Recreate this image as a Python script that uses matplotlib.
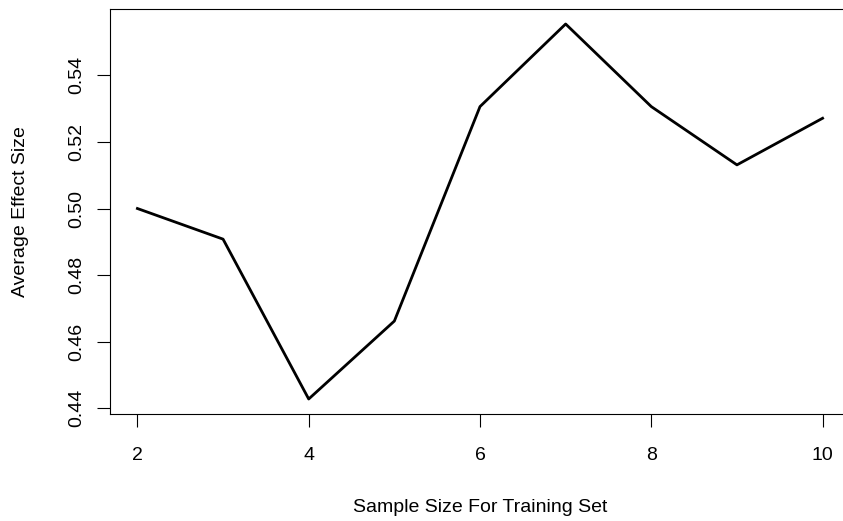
import matplotlib.pyplot as plt

sample_size = [2, 3, 4, 5, 6, 7, 8, 9, 10]
effect_size = [0.500, 0.4908, 0.4428, 0.4662, 0.5306, 0.5554, 0.5306, 0.5131, 0.5271]
y_ticks = [0.44, 0.46, 0.48, 0.50, 0.52, 0.54]
x_ticks = [2, 4, 6, 8, 10]

plt.rcParams['font.family'] = ['Liberation Sans', 'DejaVu Sans']

W, H = 843, 521
fig = plt.figure(figsize=(W / 100, H / 100), dpi=100)
ax = fig.add_axes([110 / W, (H - 414) / H, 740 / W, 405 / H])

ax.plot(sample_size, effect_size, color='black', linewidth=2.0)

# R-style 4% padding on both axes
xr = max(sample_size) - min(sample_size)
yr = max(effect_size) - min(effect_size)
ax.set_xlim(min(sample_size) - 0.04 * xr, max(sample_size) + 0.04 * xr)
ax.set_ylim(min(effect_size) - 0.04 * yr, max(effect_size) + 0.04 * yr)

ax.set_xticks(x_ticks)
ax.set_xticklabels([str(t) for t in x_ticks])
ax.set_yticks(y_ticks)
ax.set_yticklabels(['%.2f' % t for t in y_ticks], rotation=90, va='center')

ax.tick_params(axis='both', direction='out', length=9.5, width=0.8,
               labelsize=14, colors='black')
ax.tick_params(axis='x', pad=14)
ax.tick_params(axis='y', pad=8.5)

for s in ax.spines.values():
    s.set_linewidth(0.8)

ax.set_xlabel('Sample Size For Training Set', fontsize=14)
ax.xaxis.set_label_coords(0.5, (414 - 508) / 405)
ax.xaxis.label.set_verticalalignment('center')
ax.set_ylabel('Average Effect Size', fontsize=14)
ax.yaxis.set_label_coords((20 - 110) / 740, 0.5)
ax.yaxis.label.set_verticalalignment('center')

fig.savefig('out.png', dpi=100)
